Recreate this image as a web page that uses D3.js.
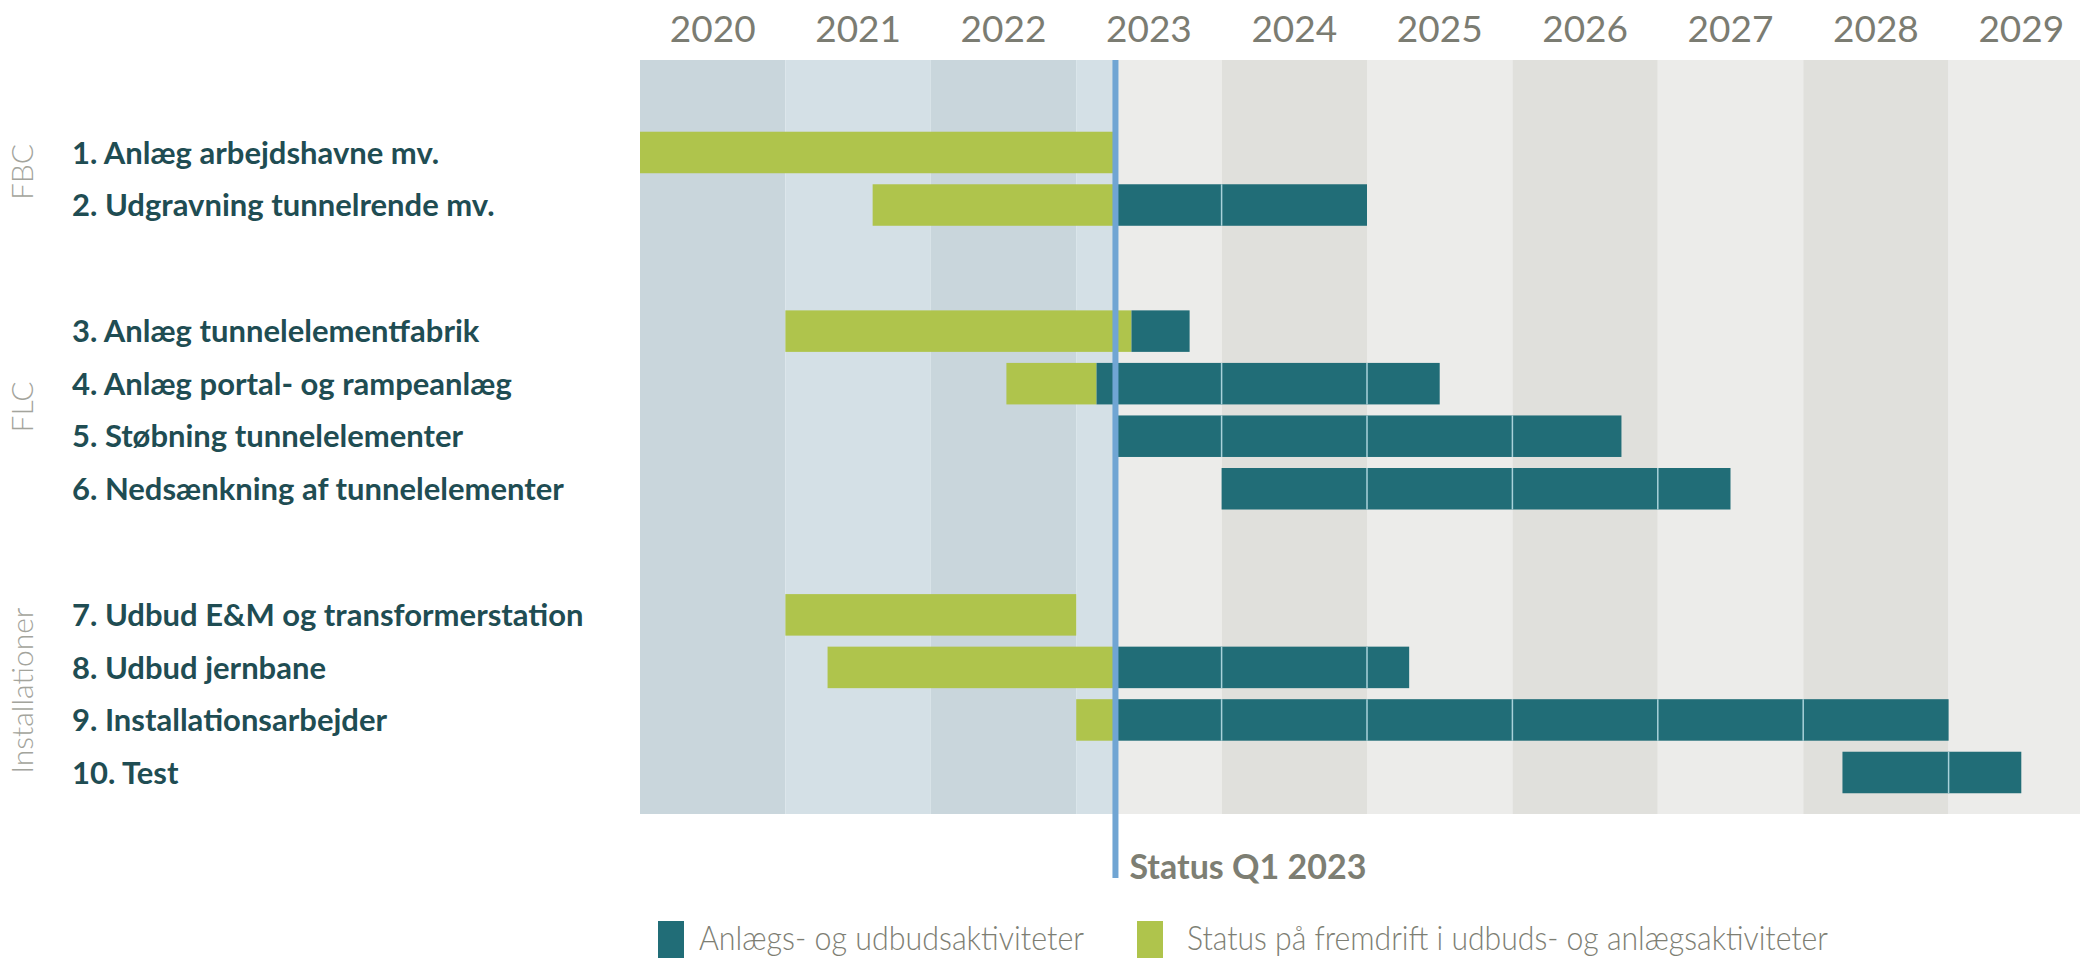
<!DOCTYPE html>
<html>
<head>
<meta charset="utf-8">
<script src="https://cdn.jsdelivr.net/npm/d3@7"></script>
<style>
  html, body { margin: 0; padding: 0; background: #ffffff; }
  svg { display: block; }
</style>
</head>
<body>
<svg id="chart" width="2080" height="958"></svg>
<script>
// ---------- DATA ----------
const years = [2020, 2021, 2022, 2023, 2024, 2025, 2026, 2027, 2028, 2029];
const tasks = [
  "1. Anlæg arbejdshavne mv.",
  "2. Udgravning tunnelrende mv.",
  "3. Anlæg tunnelelementfabrik",
  "4. Anlæg portal- og rampeanlæg",
  "5. Støbning tunnelelementer",
  "6. Nedsænkning af tunnelelementer",
  "7. Udbud E&M og transformerstation",
  "8. Udbud jernbane",
  "9. Installationsarbejder",
  "10. Test"
];
const rowPos = [0, 1, 3.4, 4.4, 5.4, 6.4, 8.8, 9.8, 10.8, 11.8];
const greenStart = [2020.0, 2021.6, 2021.0, 2022.52, null, null, 2021.0, 2021.29, 2023.0, null];
const greenEnd   = [2023.27, 2023.27, 2023.38, 2023.14, null, null, 2023.0, 2023.27, 2023.27, null];
const tealStart  = [null, 2023.27, 2023.38, 2023.14, 2023.27, 2024.0, null, 2023.27, 2023.27, 2028.27];
const tealEnd    = [null, 2025.0, 2023.78, 2025.5, 2026.75, 2027.5, null, 2025.29, 2029.0, 2029.5];
const groups = ["FBC", "FLC", "Installationer"];
const groupRows = [[0, 1], [2, 5], [6, 9]];
const statusDate = 2023.27;
const statusLabel = "Status Q1 2023";
const legendLabels = ["Anlægs- og udbudsaktiviteter", "Status på fremdrift i udbuds- og anlægsaktiviteter"];

// ---------- STYLE ----------
const TEAL = "#216d77";
const GREEN = "#afc44c";
const BLUE_A = "#c9d6dc", BLUE_B = "#d4e0e6";
const GREY_A = "#e0e0dc", GREY_B = "#ececea";
const STATUS = "#70a5d3";

const svg = d3.select("#chart");
const x = d3.scaleLinear().domain([2020, 2030]).range([640, 2094]);
const y = d3.scaleLinear().domain([-1.76, 12.59]).range([60, 814]);
const barH = y(0.395) - y(-0.395);
const plotTop = y.range()[0], plotBottom = y.range()[1];

// background columns
const bg = svg.append("g");
years.forEach((yr, i) => {
  const even = i % 2 === 0;
  if (yr < statusDate) {
    bg.append("rect")
      .attr("x", x(yr)).attr("y", plotTop)
      .attr("width", x(Math.min(yr + 1, statusDate)) - x(yr))
      .attr("height", plotBottom - plotTop)
      .attr("fill", even ? BLUE_A : BLUE_B);
  }
  if (yr + 1 > statusDate) {
    const s = Math.max(yr, statusDate);
    bg.append("rect")
      .attr("x", x(s)).attr("y", plotTop)
      .attr("width", x(yr + 1) - x(s))
      .attr("height", plotBottom - plotTop)
      .attr("fill", even ? GREY_A : GREY_B);
  }
});

// bars
const bars = svg.append("g");
tasks.forEach((t, i) => {
  const cy = y(rowPos[i]);
  if (greenStart[i] != null) {
    bars.append("rect")
      .attr("x", x(greenStart[i])).attr("y", cy - barH / 2)
      .attr("width", x(greenEnd[i]) - x(greenStart[i])).attr("height", barH)
      .attr("fill", GREEN);
  }
  if (tealStart[i] != null) {
    bars.append("rect")
      .attr("x", x(tealStart[i])).attr("y", cy - barH / 2)
      .attr("width", x(tealEnd[i]) - x(tealStart[i])).attr("height", barH)
      .attr("fill", TEAL);
    // year separators over teal bars
    years.concat([2030]).forEach(yb => {
      if (yb > tealStart[i] + 0.02 && yb < tealEnd[i] - 0.02) {
        bars.append("line")
          .attr("x1", x(yb)).attr("x2", x(yb))
          .attr("y1", cy - barH / 2).attr("y2", cy + barH / 2)
          .attr("stroke", "#a9d2da").attr("stroke-width", 1.5);
      }
    });
  }
});

// year labels
svg.append("g").selectAll("text").data(years).join("text")
  .attr("x", d => x(d + 0.5)).attr("y", 42)
  .attr("text-anchor", "middle")
  .attr("font-family", "Lato, sans-serif").attr("font-size", 37).attr("font-weight", 400)
  .attr("fill", "#7b7c72")
  .text(d => d);

// task labels
svg.append("g").selectAll("text").data(tasks).join("text")
  .attr("x", 72).attr("y", (d, i) => y(rowPos[i]))
  .attr("dy", "0.36em")
  .attr("font-family", "Lato, sans-serif").attr("font-size", 31).attr("font-weight", 700)
  .attr("fill", "#1f4d53")
  .text(d => d);

// group labels
const groupY = [172, null, null];
svg.append("g").selectAll("text").data(groups).join("text")
  .attr("transform", (d, i) => {
    const r = groupRows[i];
    const cy = groupY[i] != null ? groupY[i] : (y(rowPos[r[0]]) + y(rowPos[r[1]])) / 2 - 3;
    return `translate(33,${cy}) rotate(-90)`;
  })
  .attr("text-anchor", "middle")
  .attr("font-family", "Lato, sans-serif").attr("font-size", 30).attr("font-weight", 300)
  .attr("fill", "#a3a49c")
  .text(d => d);

// status line
svg.append("line")
  .attr("x1", x(statusDate)).attr("x2", x(statusDate))
  .attr("y1", plotTop).attr("y2", 878)
  .attr("stroke", STATUS).attr("stroke-width", 6);
svg.append("text")
  .attr("x", x(statusDate) + 14).attr("y", 879)
  .attr("font-family", "Lato, sans-serif").attr("font-size", 34).attr("font-weight", 700)
  .attr("fill", "#7d7e73")
  .text(statusLabel);

// legend
const legend = svg.append("g");
const legendItems = [
  { color: TEAL, x: 658, tx: 699, w: 385, label: legendLabels[0] },
  { color: GREEN, x: 1137, tx: 1187, w: 641, label: legendLabels[1] }
];
legendItems.forEach(it => {
  legend.append("rect").attr("x", it.x).attr("y", 921).attr("width", 26).attr("height", 40).attr("fill", it.color);
  legend.append("text")
    .attr("x", it.tx).attr("y", 950)
    .attr("font-family", "Lato, sans-serif").attr("font-size", 33).attr("font-weight", 300)
    .attr("fill", "#7d7e73")
    .attr("textLength", it.w).attr("lengthAdjust", "spacingAndGlyphs")
    .text(it.label);
});
</script>
</body>
</html>
